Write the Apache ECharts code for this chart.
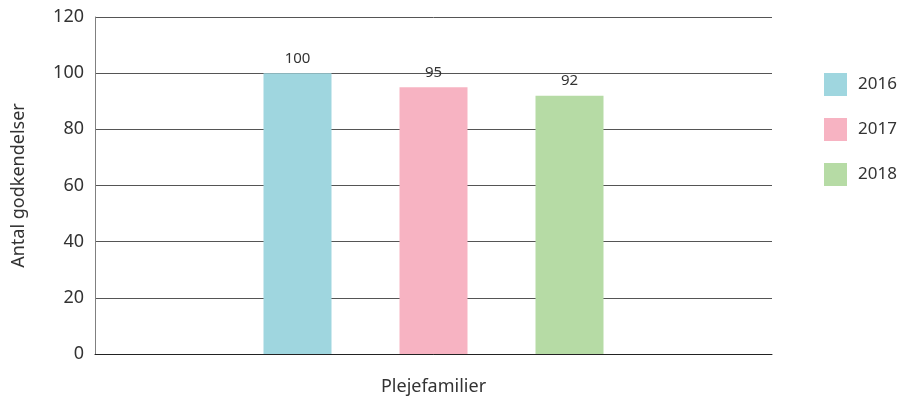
<!DOCTYPE html>
<html><head><meta charset="utf-8">
<script src="https://cdn.jsdelivr.net/npm/echarts@6/dist/echarts.min.js"></script>
<style>html,body{margin:0;padding:0;background:#fff}#c{width:905px;height:401px}</style>
</head><body><div id="c"></div>
<script>
const categories = ['Plejefamilier'];
const seriesNames = ['2016', '2017', '2018'];
const values2016 = [100];
const values2017 = [95];
const values2018 = [92];
const colors = ['#9fd6df', '#f7b3c2', '#b6dba5'];
const font = 'Noto Sans';
const chart = echarts.init(document.getElementById('c'));
const data = [values2016, values2017, values2018];
chart.setOption({
  animation: false,
  textStyle: { fontFamily: font },
  grid: { left: 95, right: 133, top: 17, bottom: 47, containLabel: false, outerBoundsMode: 'none' },
  legend: {
    orient: 'vertical', left: 824, top: 73, padding: 0, itemWidth: 23, itemHeight: 23, itemGap: 22,
    icon: 'rect',
    textStyle: { fontSize: 17, color: '#333', fontFamily: font, padding: [0, 0, 0, 6] },
    data: seriesNames
  },
  xAxis: {
    type: 'category', data: categories,
    name: 'Plejefamilier', nameLocation: 'middle', nameGap: 24,
    nameTextStyle: { fontSize: 18, color: '#333', fontFamily: font },
    axisLine: { lineStyle: { color: '#222', width: 1 } },
    axisTick: { show: false },
    axisLabel: { show: false }
  },
  yAxis: {
    type: 'value', min: 0, max: 120, interval: 20,
    name: 'Antal godkendelser', nameLocation: 'middle', nameGap: 67,
    nameTextStyle: { fontSize: 18, color: '#333', fontFamily: font },
    axisLine: { show: true, lineStyle: { color: '#808080' } },
    axisTick: { show: false },
    axisLabel: { fontSize: 18, color: '#333', margin: 11, fontFamily: font },
    splitLine: { lineStyle: { color: '#555', width: 1 } }
  },
  series: seriesNames.map((n, i) => ({
    name: n, type: 'bar', data: data[i], barWidth: 68, barGap: '100%',
    itemStyle: { color: colors[i] },
    label: { show: true, position: 'top', distance: 7, fontSize: 15, color: '#333', fontFamily: font }
  }))
});
</script></body></html>
